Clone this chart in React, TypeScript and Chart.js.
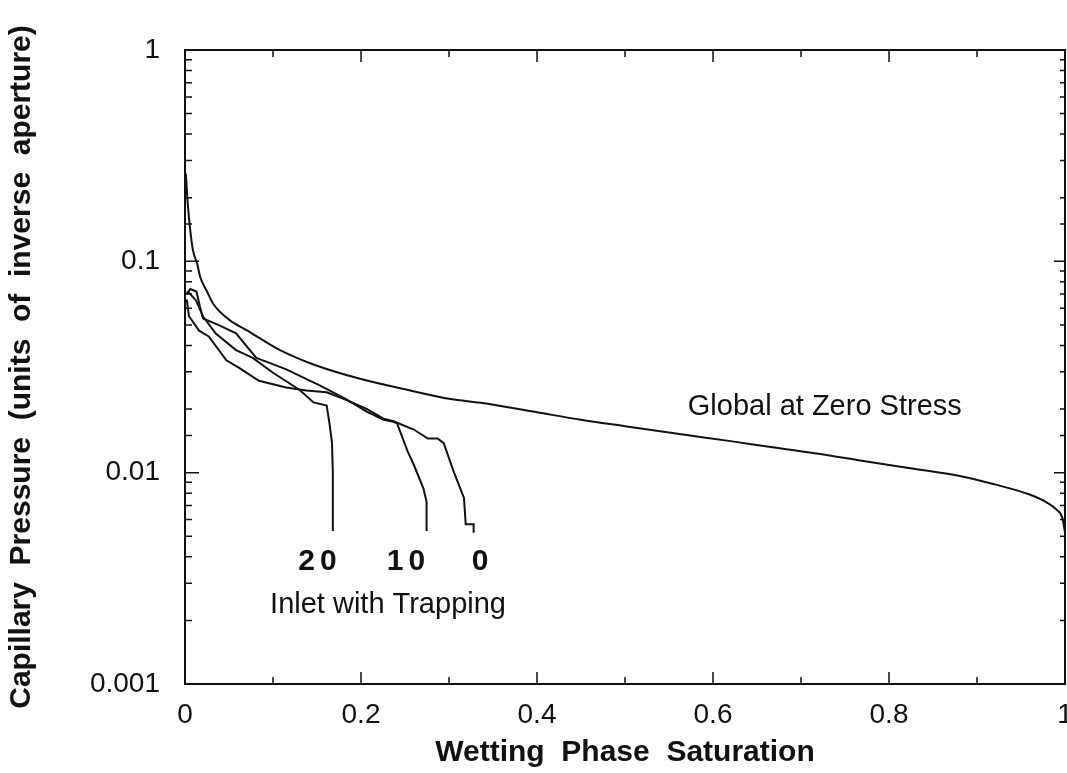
import React, { useEffect, useRef } from 'react';
import { Chart, registerables } from 'chart.js';

Chart.register(...registerables);

// ---- Data ----
const globalX = [0.001, 0.003, 0.006, 0.009, 0.014, 0.017, 0.025, 0.032, 0.05, 0.071, 0.09, 0.108, 0.146, 0.199, 0.25, 0.302, 0.336, 0.4, 0.45, 0.5, 0.564, 0.62, 0.678, 0.72, 0.769, 0.83, 0.883, 0.92, 0.959, 0.98, 0.99, 0.997, 1.0];
const globalY = [0.26, 0.19, 0.14, 0.113, 0.097, 0.085, 0.072, 0.063, 0.053, 0.047, 0.042, 0.038, 0.0325, 0.0278, 0.0248, 0.0223, 0.0214, 0.0193, 0.0178, 0.0166, 0.0152, 0.0141, 0.013, 0.0123, 0.0114, 0.0104, 0.0096, 0.0088, 0.0079, 0.0072, 0.0067, 0.0061, 0.0052];

const inlet20X = [0.002, 0.006, 0.0125, 0.0205, 0.035, 0.058, 0.077, 0.1, 0.13, 0.146, 0.161, 0.164, 0.167, 0.168, 0.168];
const inlet20Y = [0.072, 0.07, 0.0653, 0.0548, 0.0455, 0.038, 0.0349, 0.0297, 0.0247, 0.0215, 0.0208, 0.0173, 0.0139, 0.01, 0.0053];

const inlet10X = [0.002, 0.006, 0.013, 0.017, 0.0205, 0.039, 0.058, 0.081, 0.096, 0.115, 0.153, 0.183, 0.207, 0.2255, 0.237, 0.241, 0.253, 0.26, 0.271, 0.2745, 0.2745];
const inlet10Y = [0.07, 0.074, 0.072, 0.061, 0.0537, 0.0498, 0.0456, 0.0349, 0.0331, 0.0308, 0.0259, 0.0223, 0.0194, 0.0178, 0.0174, 0.0171, 0.0126, 0.0109, 0.0084, 0.0073, 0.0053];

const inlet0X = [0.002, 0.0045, 0.016, 0.027, 0.047, 0.0615, 0.084, 0.115, 0.138, 0.161, 0.183, 0.207, 0.2255, 0.237, 0.26, 0.276, 0.287, 0.294, 0.305, 0.317, 0.319, 0.328, 0.328];
const inlet0Y = [0.066, 0.055, 0.047, 0.0441, 0.034, 0.0313, 0.0272, 0.0253, 0.0245, 0.024, 0.0221, 0.02, 0.018, 0.0175, 0.016, 0.0145, 0.0145, 0.0138, 0.0102, 0.0076, 0.0057, 0.0057, 0.0052];

const xTickLabels = ['0', '0.2', '0.4', '0.6', '0.8', '1'];
const yTickLabels = ['0.001', '0.01', '0.1', '1'];

const xTitle = 'Wetting  Phase  Saturation';
const yTitle = 'Capillary  Pressure  (units  of  inverse  aperture)';

const globalLabel = 'Global at Zero Stress';
const inletLabel = 'Inlet with Trapping';
const curveLabels = ['20', '10', '0'];
const curveLabelX = [0.1506, 0.2511, 0.3352];
const curveLabelY = 0.0038;

const FONT = '"Liberation Sans", Arial, Helvetica, sans-serif';
const INK = '#111';

const toPts = (xs: number[], ys: number[]) => xs.map((x, i) => ({ x, y: ys[i] }));

const framePlugin = {
  id: 'frameTicks',
  afterDatasetsDraw(chart: any) {
    const { ctx, chartArea: a, scales } = chart;
    const xs = scales.x;
    const ys = scales.y;
    ctx.save();
    ctx.strokeStyle = INK;
    ctx.lineWidth = 2;
    ctx.strokeRect(a.left, a.top, a.right - a.left, a.bottom - a.top);
    ctx.lineWidth = 1.5;
    ctx.beginPath();
    xs.ticks.forEach((t: any) => {
      const v = t.value;
      if (v <= 1e-9 || v >= 1 - 1e-9) return;
      const major = Math.abs(v * 5 - Math.round(v * 5)) < 1e-6;
      const px = xs.getPixelForValue(v);
      const len = major ? 12 : 7;
      ctx.moveTo(px, a.bottom);
      ctx.lineTo(px, a.bottom - len);
      ctx.moveTo(px, a.top);
      ctx.lineTo(px, a.top + len);
    });
    ys.ticks.forEach((t: any) => {
      const v = t.value;
      if (v <= 0.001 * 1.0001 || v >= 0.9999) return;
      const lg = Math.log10(v);
      const major = Math.abs(lg - Math.round(lg)) < 1e-6;
      const py = ys.getPixelForValue(v);
      ctx.moveTo(a.left, py);
      ctx.lineTo(a.left + (major ? 14 : 7), py);
      ctx.moveTo(a.right, py);
      ctx.lineTo(a.right - (major ? 11 : 5), py);
    });
    ctx.stroke();
    ctx.restore();
  },
};

const labelPlugin = {
  id: 'curveLabels',
  afterDatasetsDraw(chart: any) {
    const { ctx, scales } = chart;
    const xs = scales.x;
    const ys = scales.y;
    ctx.save();
    ctx.fillStyle = INK;
    ctx.textAlign = 'center';
    ctx.textBaseline = 'middle';
    ctx.font = `29px ${FONT}`;
    ctx.fillText(globalLabel, xs.getPixelForValue(0.727), ys.getPixelForValue(0.0205));
    ctx.fillText(inletLabel, xs.getPixelForValue(0.2307), ys.getPixelForValue(0.00237));
    ctx.font = `bold 30px ${FONT}`;
    (ctx as any).letterSpacing = '5px';
    curveLabels.forEach((t, i) => {
      ctx.fillText(t, xs.getPixelForValue(curveLabelX[i]) + 2.5, ys.getPixelForValue(curveLabelY));
    });
    ctx.restore();
  },
};

export default function App() {
  const ref = useRef<HTMLCanvasElement>(null);

  useEffect(() => {
    document.body.style.margin = '0';
    Chart.defaults.font.family = FONT;
    const line = (xs: number[], ys: number[], smooth: boolean) => ({
      data: toPts(xs, ys),
      showLine: true,
      borderColor: INK,
      backgroundColor: INK,
      borderWidth: 2,
      pointRadius: 0,
      fill: false,
      tension: smooth ? 0.4 : 0,
      cubicInterpolationMode: smooth ? ('monotone' as const) : ('default' as const),
    });
    const chart = new Chart(ref.current!, {
      type: 'scatter',
      data: {
        datasets: [
          line(globalX, globalY, true),
          line(inlet20X, inlet20Y, false),
          line(inlet10X, inlet10Y, false),
          line(inlet0X, inlet0Y, false),
        ],
      },
      options: {
        responsive: false,
        animation: false,
        devicePixelRatio: 1,
        layout: { padding: { top: 50, right: 2, left: 0, bottom: 0 } },
        plugins: { legend: { display: false }, tooltip: { enabled: false } },
        scales: {
          x: {
            type: 'linear',
            position: 'bottom',
            min: 0,
            max: 1,
            grid: { display: false, drawTicks: false },
            border: { display: false },
            ticks: {
              stepSize: 0.1,
              autoSkip: false,
              maxRotation: 0,
              padding: 14,
              color: INK,
              font: { size: 28 },
              callback: (v: any) => {
                const n = Number(v);
                const k = Math.round(n * 5);
                return Math.abs(n * 5 - k) < 1e-6 ? xTickLabels[k] : '';
              },
            },
            title: {
              display: true,
              text: xTitle,
              color: INK,
              font: { size: 30, weight: 'bold' },
              padding: { top: 0, bottom: 2 },
            },
            afterFit: (s: any) => {
              s.height = 89;
              s.paddingLeft = 0;
              s.paddingRight = 0;
            },
          },
          y: {
            type: 'logarithmic',
            min: 0.001,
            max: 1,
            grid: { display: false, drawTicks: false },
            border: { display: false },
            ticks: {
              autoSkip: false,
              padding: 25,
              color: INK,
              font: { size: 28 },
              callback: (v: any) => {
                const lg = Math.log10(Number(v));
                const k = Math.round(lg);
                return Math.abs(lg - k) < 1e-6 ? yTickLabels[k + 3] : '';
              },
            },
            title: {
              display: true,
              text: yTitle,
              color: INK,
              font: { size: 30, weight: 'bold' },
              padding: { top: 4, bottom: 0 },
            },
            afterFit: (s: any) => {
              s.width = 185;
              s.paddingTop = 0;
              s.paddingBottom = 0;
            },
          },
        },
      },
      plugins: [framePlugin, labelPlugin],
    } as any);
    return () => chart.destroy();
  }, []);

  return (
    <div style={{ position: 'absolute', left: 0, top: 0, width: 1067, height: 773, background: '#fff' }}>
      <canvas ref={ref} width={1067} height={773} style={{ display: 'block' }} />
    </div>
  );
}
